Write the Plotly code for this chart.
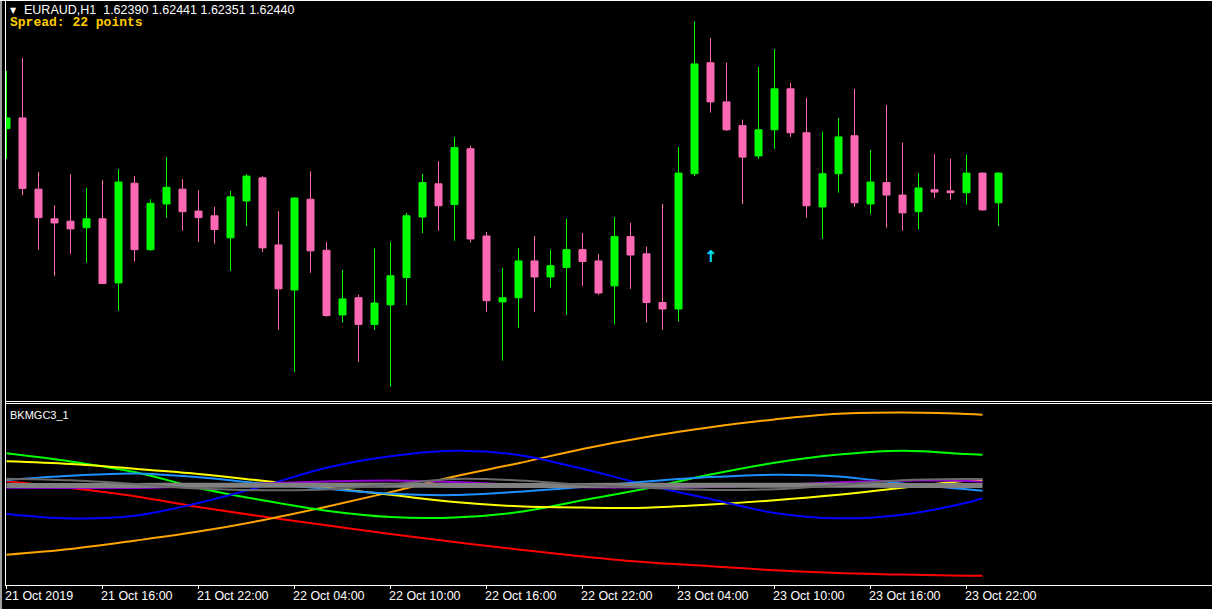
import plotly.graph_objects as go

# EURAUD H1, one bar per hour from 21 Oct 2019 10:00
opens = [1.62515, 1.62533, 1.62413, 1.62363, 1.62359, 1.62348, 1.62363, 1.62255, 1.62423, 1.62311,
         1.62388, 1.62413, 1.62376, 1.62368, 1.62331, 1.62393, 1.62432, 1.62319, 1.62243, 1.62396,
         1.62310, 1.62201, 1.62230, 1.62185, 1.62218, 1.62264, 1.62366, 1.62422, 1.62387, 1.62481,
         1.62334, 1.62223, 1.62230, 1.62292, 1.62265, 1.62281, 1.62311, 1.62292, 1.62250, 1.62333,
         1.62304, 1.62222, 1.62211, 1.62439, 1.62626, 1.62560, 1.62520, 1.62469, 1.62513, 1.62582,
         1.62508, 1.62383, 1.62439, 1.62503, 1.62388, 1.62424, 1.62403, 1.62375, 1.62412, 1.62410,
         1.62407, 1.62440, 1.62390]
highs = [1.62612, 1.62634, 1.62442, 1.62386, 1.62438, 1.62415, 1.62428, 1.62447, 1.62435, 1.62396,
         1.62467, 1.62430, 1.62411, 1.62383, 1.62410, 1.62438, 1.62435, 1.62376, 1.62399, 1.62443,
         1.62324, 1.62277, 1.62235, 1.62313, 1.62324, 1.62373, 1.62439, 1.62460, 1.62501, 1.62486,
         1.62341, 1.62280, 1.62314, 1.62334, 1.62311, 1.62363, 1.62339, 1.62304, 1.62366, 1.62356,
         1.62316, 1.62388, 1.62484, 1.62696, 1.62668, 1.62626, 1.62530, 1.62619, 1.62649, 1.62592,
         1.62567, 1.62510, 1.62533, 1.62582, 1.62479, 1.62555, 1.62491, 1.62440, 1.62472, 1.62464,
         1.62471, 1.62441, 1.62441]
lows = [1.62464, 1.62403, 1.62311, 1.62267, 1.62304, 1.62289, 1.62253, 1.62208, 1.62291, 1.62309,
        1.62365, 1.62343, 1.62324, 1.62321, 1.62275, 1.62351, 1.62307, 1.62176, 1.62105, 1.62272,
        1.62198, 1.62188, 1.62122, 1.62176, 1.62080, 1.62218, 1.62339, 1.62343, 1.62326, 1.62323,
        1.62206, 1.62124, 1.62179, 1.62206, 1.62247, 1.62201, 1.62250, 1.62235, 1.62185, 1.62245,
        1.62188, 1.62176, 1.62190, 1.62435, 1.62542, 1.62511, 1.62388, 1.62464, 1.62481, 1.62501,
        1.62365, 1.62329, 1.62407, 1.62383, 1.62371, 1.62348, 1.62343, 1.62345, 1.62398, 1.62395,
        1.62387, 1.62377, 1.62351]
closes = [1.62533, 1.62414, 1.62365, 1.62356, 1.62346, 1.62363, 1.62254, 1.62425, 1.62311, 1.62389,
          1.62416, 1.62375, 1.62365, 1.62345, 1.62400, 1.62435, 1.62314, 1.62245, 1.62398, 1.62309,
          1.62200, 1.62228, 1.62185, 1.62221, 1.62267, 1.62368, 1.62424, 1.62385, 1.62483, 1.62329,
          1.62225, 1.62230, 1.62292, 1.62265, 1.62284, 1.62311, 1.62291, 1.62238, 1.62333, 1.62302,
          1.62222, 1.62211, 1.62440, 1.62624, 1.62560, 1.62513, 1.62467, 1.62513, 1.62582, 1.62508,
          1.62385, 1.62439, 1.62501, 1.62390, 1.62425, 1.62403, 1.62373, 1.62415, 1.62408, 1.62407,
          1.62440, 1.62378, 1.62440]

tick_bars = [0, 6, 12, 18, 24, 30, 36, 42, 48, 54, 60]
tick_labels = ["21 Oct 2019", "21 Oct 16:00", "21 Oct 22:00", "22 Oct 04:00",
               "22 Oct 10:00", "22 Oct 16:00", "22 Oct 22:00", "23 Oct 04:00",
               "23 Oct 10:00", "23 Oct 16:00", "23 Oct 22:00"]

signal_bar = [44]
signal_price = [1.62300]

# BKMGC3_1 buffers, sampled every 4 bars
ind_bars = [0, 4, 8, 12, 16, 20, 24, 28, 32, 36, 40, 44, 48, 52, 56, 60, 61]
bk_red = [0.127, 0.059, -0.022, -0.13, -0.226, -0.312, -0.401, -0.479, -0.556,
          -0.625, -0.683, -0.722, -0.763, -0.791, -0.806, -0.817, -0.817]
bk_orange = [-0.607, -0.55, -0.467, -0.376, -0.262, -0.127, 0.019, 0.176, 0.308,
             0.451, 0.571, 0.668, 0.746, 0.802, 0.814, 0.80, 0.793]
bk_green = [0.407, 0.326, 0.22, 0.061, -0.062, -0.167, -0.23, -0.235, -0.181,
            -0.062, 0.056, 0.194, 0.312, 0.394, 0.433, 0.40, 0.393]
bk_yellow = [0.327, 0.30, 0.253, 0.201, 0.132, 0.063, -0.008, -0.08, -0.123,
             -0.136, -0.137, -0.106, -0.063, -0.008, 0.063, 0.133, 0.14]
bk_blue = [-0.20, -0.244, -0.218, -0.09, 0.078, 0.263, 0.378, 0.432, 0.391,
           0.252, 0.09, -0.049, -0.189, -0.243, -0.207, -0.088, -0.043]
bk_dodger = [0.14, 0.182, 0.206, 0.168, 0.104, 0.052, 0.002, -0.011, 0.022,
             0.07, 0.124, 0.169, 0.192, 0.175, 0.104, 0.047, 0.033]
bk_purple = [0.063, 0.06, 0.06, 0.074, 0.105, 0.126, 0.136, 0.12, 0.09,
             0.068, 0.065, 0.07, 0.09, 0.118, 0.133, 0.13, 0.123]
bk_gray = [0.085, 0.084, 0.086, 0.087, 0.088, 0.088, 0.087, 0.086, 0.085,
           0.086, 0.087, 0.088, 0.088, 0.087, 0.086, 0.085, 0.084]
bk_dimgray = [0.153, 0.137, 0.10, 0.055, 0.038, 0.045, 0.095, 0.151, 0.135,
              0.092, 0.062, 0.04, 0.048, 0.089, 0.138, 0.15, 0.15]

W, H = 1212, 609
ML, MT, MB = 5, 1, 24
PW, PH = W - ML, H - MT - MB


def px(p):
    return (p - ML) / PW


def py(p):
    return (MT + PH - p) / PH


bars = list(range(len(opens)))
x0 = -1.5 / 16
xrange = [x0, x0 + PW / 16]

fig = go.Figure()

fig.add_trace(go.Candlestick(
    x=bars, open=opens, high=highs, low=lows, close=closes,
    increasing=dict(line=dict(color="#00FF00", width=1), fillcolor="#00FF00"),
    decreasing=dict(line=dict(color="#FF69B4", width=1), fillcolor="#FF69B4"),
    xaxis="x", yaxis="y", hoverinfo="skip", showlegend=False,
))

lines = [
    (bk_red, "#FF0000", 2),
    (bk_orange, "#FFA500", 2),
    (bk_green, "#00FF00", 2),
    (bk_yellow, "#FFFF00", 2),
    (bk_blue, "#0000FF", 2),
    (bk_dodger, "#1E90FF", 2),
    (bk_purple, "#9400D3", 2),
    (bk_gray, "#808080", 5),
    (bk_dimgray, "#696969", 2),
]
for vals, col, w in lines:
    fig.add_trace(go.Scatter(
        x=ind_bars, y=vals, mode="lines",
        line=dict(color=col, width=w, shape="spline"),
        xaxis="x2", yaxis="y2", hoverinfo="skip", showlegend=False,
    ))

white = "#FFFFFF"
shapes = [
    dict(type="rect", xref="paper", yref="paper", x0=px(0), x1=px(2), y0=py(H), y1=py(0),
         fillcolor="#A0A0A0", line_width=0),
    dict(type="rect", xref="paper", yref="paper", x0=px(0), x1=px(W), y0=py(1), y1=py(0),
         fillcolor=white, line_width=0),
    dict(type="rect", xref="paper", yref="paper", x0=px(5), x1=px(6), y0=py(586), y1=py(0),
         fillcolor=white, line_width=0),
    dict(type="rect", xref="paper", yref="paper", x0=px(5), x1=px(W), y0=py(402), y1=py(401),
         fillcolor=white, line_width=0),
    dict(type="rect", xref="paper", yref="paper", x0=px(5), x1=px(W), y0=py(404), y1=py(403),
         fillcolor=white, line_width=0),
]


def label(x, y, text, size, color=white, family="Liberation Sans", xref="paper",
          yref="paper", anchor="left"):
    return dict(x=x, y=y, xref=xref, yref=yref, text=text, showarrow=False,
                xanchor=anchor, yanchor="middle", borderpad=0, borderwidth=0,
                font=dict(family=family, size=size, color=color))


ann = []
for b, lab in zip(tick_bars, tick_labels):
    a = label(b, py(595.5), lab, 12.5, xref="x2")
    a["xshift"] = -1.5
    ann.append(a)

header = "EURAUD,H1\u00a0 {:.5f} {:.5f} {:.5f} {:.5f}".format(
    opens[-1], highs[-1], lows[-1], closes[-1])
ann += [
    label(px(13), py(10.5), "\u25bc", 8, family="DejaVu Sans", anchor="center"),
    label(px(24), py(10.5), header, 12.5),
    label(px(10), py(22.5), "<b>Spread: 22 points</b>", 13, color="#FFCC00",
          family="Liberation Mono"),
    label(px(9.5), py(415), "BKMGC3_1", 11),
]
# buy signal arrow drawn by the indicator
for b, p in zip(signal_bar, signal_price):
    ann.append(label(b, p, "<b>\u2191</b>", 16, color="#00E5FF", family="DejaVu Sans",
                     xref="x", yref="y", anchor="center"))

fig.update_layout(
    width=W, height=H,
    margin=dict(l=ML, r=0, t=MT, b=MB, pad=0),
    paper_bgcolor="#000000", plot_bgcolor="#000000",
    boxgap=0.375,
    showlegend=False,
    xaxis=dict(domain=[0, 1], range=xrange, anchor="y", showticklabels=False, ticks="",
               showgrid=False, zeroline=False, showline=False,
               rangeslider=dict(visible=False)),
    yaxis=dict(domain=[py(401), 1], range=[1.62056, 1.62730], visible=False,
               showgrid=False, zeroline=False),
    xaxis2=dict(domain=[0, 1], range=xrange, anchor="y2", matches="x",
                tickmode="array", tickvals=tick_bars, showticklabels=False,
                ticks="outside", ticklen=3, tickwidth=1, tickcolor=white,
                showline=True, linecolor=white, linewidth=1,
                showgrid=False, zeroline=False),
    yaxis2=dict(domain=[0, py(403)], range=[-0.91, 0.91], visible=False,
                showgrid=False, zeroline=False),
    shapes=shapes,
    annotations=ann,
)

fig.write_html("out.html", config={"displayModeBar": False},
               post_script="document.body.style.margin='0';")
